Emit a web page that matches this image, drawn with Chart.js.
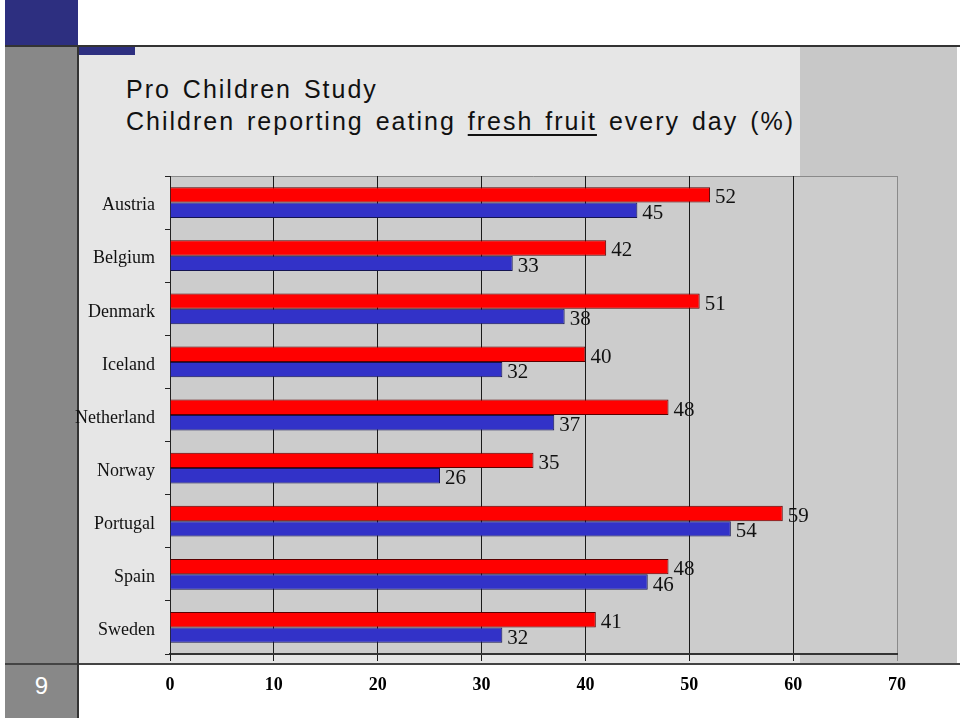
<!DOCTYPE html>
<html>
<head>
<meta charset="utf-8">
<script src="https://cdn.jsdelivr.net/npm/chart.js@4/dist/chart.umd.min.js"></script>
<style>
  html, body { margin: 0; padding: 0; background: #fff; }
  #slide { position: relative; width: 960px; height: 718px; overflow: hidden; }
  .blk { position: absolute; }
  #title {
    position: absolute; left: 126px; top: 73px;
    font-family: "Liberation Sans", Arial, sans-serif; font-size: 25px;
    letter-spacing: 2px; word-spacing: 3px; line-height: 32px; color: #111; white-space: nowrap;
  }
  #title u { text-decoration-thickness: 1.5px; text-underline-offset: 4px; }
  #pageno {
    position: absolute; left: 5px; top: 672px; width: 73px; text-align: center;
    font-family: "Liberation Sans", Arial, sans-serif; font-size: 24px; color: #fff;
  }
  canvas { position: absolute; left: 0; top: 0; }
</style>
</head>
<body>
<div id="slide">
  <div class="blk" style="left:5px;top:0;width:73px;height:46px;background:#2d2f80"></div>
  <div class="blk" style="left:5px;top:46px;width:73px;height:672px;background:#888"></div>
  <div class="blk" style="left:78px;top:47px;width:722px;height:616px;background:#e6e6e6"></div>
  <div class="blk" style="left:800px;top:47px;width:157px;height:616px;background:#c8c8c8"></div>
  <div class="blk" style="left:78px;top:47px;width:57px;height:8px;background:#2d2f80"></div>
  <div class="blk" style="left:5px;top:45px;width:955px;height:2px;background:#333"></div>
  <div class="blk" style="left:5px;top:663px;width:955px;height:2px;background:#444"></div>
  <div class="blk" style="left:77px;top:46px;width:2px;height:672px;background:#333"></div>
  <div id="title">Pro Children Study<br>Children reporting eating <u>fresh fruit</u> every day (%)</div>
  <div id="pageno">9</div>
  <canvas id="chart" width="960" height="718"></canvas>
</div>
<script>
'use strict';

// ── Data ──────────────────────────────────────────────────────────────
const countries = ['Austria', 'Belgium', 'Denmark', 'Iceland', 'Netherland', 'Norway', 'Portugal', 'Spain', 'Sweden'];
const redValues  = [52, 42, 51, 40, 48, 35, 59, 48, 41];
const blueValues = [45, 33, 38, 32, 37, 26, 54, 46, 32];
const xTicks = [0, 10, 20, 30, 40, 50, 60, 70];

const SERIF = '"Liberation Serif", "Times New Roman", serif';

// ── Plot area background + frame ──────────────────────────────────────
const plotBg = {
  id: 'plotBg',
  beforeDraw(chart) {
    const { ctx, chartArea: a } = chart;
    ctx.save();
    ctx.fillStyle = '#cccccc';
    ctx.fillRect(a.left, a.top, a.right - a.left, a.bottom - a.top);
    ctx.strokeStyle = '#8a8a8a';
    ctx.lineWidth = 1;
    ctx.beginPath();
    ctx.moveTo(a.left, a.top + 0.5);
    ctx.lineTo(a.right + 0.5, a.top + 0.5);
    ctx.lineTo(a.right + 0.5, a.bottom);
    ctx.stroke();
    ctx.restore();
  },
};

// ── Value labels at bar ends ──────────────────────────────────────────
const valueLabels = {
  id: 'valueLabels',
  afterDatasetsDraw(chart) {
    const ctx = chart.ctx;
    ctx.save();
    ctx.font = `21px ${SERIF}`;
    ctx.fillStyle = '#111';
    ctx.textAlign = 'left';
    ctx.textBaseline = 'middle';
    chart.data.datasets.forEach((ds, i) => {
      chart.getDatasetMeta(i).data.forEach((bar, j) => {
        ctx.fillText(String(ds.data[j]), bar.x + 5, bar.y + 3);
      });
    });
    ctx.restore();
  },
};

new Chart(document.getElementById('chart'), {
  type: 'bar',
  data: {
    labels: countries,
    datasets: [
      { label: 'Series 1', data: redValues, backgroundColor: '#ff0000', borderColor: '#5a0000', borderWidth: 1 },
      { label: 'Series 2', data: blueValues, backgroundColor: '#3232c8', borderColor: '#141450', borderWidth: 1 },
    ],
  },
  options: {
    indexAxis: 'y',
    responsive: false,
    animation: false,
    layout: { padding: { left: 0, right: 63, top: 176, bottom: 0 } },
    datasets: { bar: { categoryPercentage: 0.58, barPercentage: 1.0 } },
    plugins: { legend: { display: false }, tooltip: { enabled: false } },
    scales: {
      x: {
        min: 0, max: 70,
        afterBuildTicks: s => { s.ticks = xTicks.map(v => ({ value: v })); },
        afterFit: s => { s.height = 64; },
        ticks: { color: '#000', padding: 14, font: { family: SERIF, size: 18, weight: 'bold' } },
        grid: {
          color: ctx => (ctx.tick && ctx.tick.value === 70 ? '#8a8a8a' : '#1a1a1a'),
          lineWidth: 1, tickLength: 7,
        },
        border: { display: true, color: '#333', width: 2 },
      },
      y: {
        afterFit: s => { s.width = 170; },
        ticks: { color: '#111', padding: 10, labelOffset: 3, font: { family: SERIF, size: 18 } },
        grid: { drawOnChartArea: false, tickLength: 5, color: '#222', offset: true },
        border: { display: true, color: '#222', width: 1 },
      },
    },
  },
  plugins: [plotBg, valueLabels],
});
</script>
</body>
</html>
